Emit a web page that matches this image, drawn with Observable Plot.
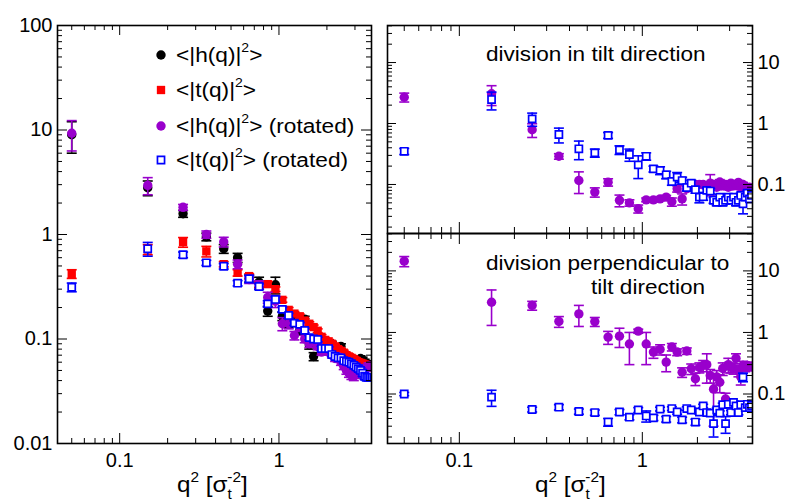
<!DOCTYPE html>
<html>
<head>
<meta charset="utf-8">
<script src="https://cdn.jsdelivr.net/npm/d3@7"></script>
<script src="https://cdn.jsdelivr.net/npm/@observablehq/plot@0.6"></script>
<style>
  html, body { margin: 0; padding: 0; background: #fff; }
  #chart { position: relative; width: 789px; height: 502px; overflow: hidden; }
  #chart svg { position: absolute; top: 0; }
</style>
</head>
<body>
<div id="chart"></div>
<script>
// q^2 bin centres, in units of sigma_t^-2
const q2 = [0.05, 0.15, 0.25, 0.35, 0.45, 0.55, 0.65, 0.75, 0.85, 0.95,
            1.05, 1.15, 1.25, 1.35, 1.45, 1.55, 1.65, 1.75, 1.85, 1.95,
            2.05, 2.15, 2.25, 2.35, 2.45, 2.55, 2.65, 2.75, 2.85, 2.95,
            3.05, 3.15, 3.25, 3.35, 3.45, 3.55, 3.65, 3.75, 3.85, 3.95];

// Left panel: full spectra
const hAll = [9.0, 2.8, 1.58, 0.95, 0.73, 0.6, 0.38, 0.35, 0.185, 0.33,
              0.165, 0.14, 0.165, 0.12, 0.155, 0.088, 0.068, 0.1, 0.085, 0.09,
              0.092, 0.09, 0.08, 0.078, 0.085, 0.07, 0.068, 0.066, 0.064, 0.062,
              0.06, 0.062, 0.065, 0.063, 0.06, 0.058, 0.057, 0.055, 0.055, 0.054];
const hAllErr = [3.0, 0.45, 0.12, 0.08, 0.07, 0.06, 0.03, 0.04, 0.02, 0.06,
                 0.015, 0.012, 0.012, 0.01, 0.01, 0.008, 0.006, 0.008, 0.006, 0.006,
                 0.006, 0.005, 0.005, 0.005, 0.005, 0.004, 0.004, 0.004, 0.004, 0.004,
                 0.004, 0.004, 0.004, 0.004, 0.004, 0.004, 0.004, 0.004, 0.004, 0.004];
const tAll = [0.42, 0.72, 0.845, 0.69, 0.52, 0.43, 0.40, 0.33, 0.335, 0.30,
              0.237, 0.19, 0.175, 0.165, 0.15, 0.14, 0.13, 0.12, 0.105, 0.098,
              0.095, 0.09, 0.085, 0.08, 0.077, 0.074, 0.07, 0.068, 0.066, 0.064,
              0.062, 0.06, 0.059, 0.058, 0.057, 0.056, 0.055, 0.055, 0.054, 0.054];
const tAllErr = [0.04, 0.08, 0.09, 0.08, 0.03, 0.03, 0.02, 0.02, 0.02, 0.015,
                 0.012, 0.01, 0.008, 0.008, 0.007, 0.006, 0.006, 0.005, 0.005, 0.005,
                 0.004, 0.004, 0.004, 0.004, 0.004, 0.004, 0.004, 0.004, 0.004, 0.004,
                 0.004, 0.004, 0.004, 0.004, 0.004, 0.004, 0.004, 0.004, 0.004, 0.004];
const hRot = [9.3, 2.95, 1.82, 1.0, 0.85, 0.52, 0.37, 0.33, 0.25, 0.23,
              0.14, 0.14, 0.108, 0.13, 0.1, 0.09, 0.095, 0.085, 0.075, 0.08,
              0.075, 0.07, 0.065, 0.068, 0.06, 0.055, 0.05, 0.047, 0.045, 0.044,
              0.046, 0.048, 0.05, 0.052, 0.05, 0.053, 0.055, 0.055, 0.056, 0.056];
const hRotErr = [3.0, 0.55, 0.12, 0.08, 0.09, 0.05, 0.03, 0.03, 0.03, 0.03,
                 0.02, 0.015, 0.01, 0.01, 0.008, 0.007, 0.006, 0.006, 0.005, 0.005,
                 0.004, 0.004, 0.004, 0.004, 0.004, 0.004, 0.004, 0.004, 0.004, 0.004,
                 0.004, 0.004, 0.004, 0.004, 0.004, 0.004, 0.004, 0.004, 0.004, 0.004];
const tRot = [0.313, 0.73, 0.64, 0.536, 0.497, 0.342, 0.377, 0.318, 0.217, 0.239,
              0.192, 0.168, 0.142, 0.138, 0.121, 0.103, 0.1, 0.099, 0.081, 0.081,
              0.081, 0.071, 0.068, 0.066, 0.066, 0.062, 0.061, 0.06, 0.058, 0.056,
              0.054, 0.052, 0.05, 0.047, 0.044, 0.043, 0.043, 0.043, 0.043, 0.043];
const tRotErr = [0.03, 0.11, 0.04, 0.03, 0.03, 0.02, 0.03, 0.02, 0.015, 0.015,
                 0.01, 0.008, 0.007, 0.006, 0.006, 0.005, 0.005, 0.005, 0.004, 0.004,
                 0.003, 0.003, 0.003, 0.003, 0.003, 0.003, 0.003, 0.003, 0.003, 0.003,
                 0.003, 0.003, 0.003, 0.003, 0.003, 0.003, 0.003, 0.003, 0.003, 0.003];

// Upper right: division in tilt direction
const tiltH = [2.7, 3.07, 0.79, 0.29, 0.116, 0.075, 0.109, 0.055, 0.05, 0.04,
               0.056, 0.056, 0.058, 0.062, 0.052, 0.085, 0.058, 0.085, 0.09, 0.1,
               0.1, 0.1, 0.095, 0.105, 0.1, 0.09, 0.11, 0.095, 0.1, 0.09,
               0.105, 0.095, 0.1, 0.108, 0.09, 0.1, 0.092, 0.085, 0.09, 0.08];
const tiltHErr = [0.45, 1.1, 0.2, 0.03, 0.045, 0.013, 0.015, 0.012, 0.006, 0.006,
                  0.004, 0.004, 0.004, 0.004, 0.008, 0.01, 0.012, 0.008, 0.008, 0.008,
                  0.01, 0.01, 0.01, 0.04, 0.01, 0.008, 0.01, 0.008, 0.008, 0.008,
                  0.008, 0.008, 0.008, 0.008, 0.008, 0.008, 0.008, 0.008, 0.008, 0.008];
const tiltT = [0.35, 2.47, 1.19, 0.66, 0.385, 0.33, 0.64, 0.37, 0.31, 0.21,
               0.29, 0.18, 0.17, 0.144, 0.112, 0.132, 0.116, 0.089, 0.105, 0.082,
               0.062, 0.063, 0.08, 0.078, 0.055, 0.051, 0.062, 0.051, 0.055, 0.062,
               0.055, 0.062, 0.051, 0.055, 0.066, 0.048, 0.062, 0.072, 0.058, 0.066];
const tiltTErr = [0.04, 0.8, 0.29, 0.18, 0.13, 0.05, 0.07, 0.06, 0.07, 0.085,
                  0.04, 0.02, 0.025, 0.02, 0.015, 0.025, 0.015, 0.01, 0.012, 0.01,
                  0.012, 0.008, 0.008, 0.008, 0.006, 0.006, 0.006, 0.006, 0.006, 0.006,
                  0.006, 0.006, 0.006, 0.006, 0.006, 0.015, 0.006, 0.008, 0.006, 0.006];

// Lower right: division perpendicular to tilt direction
const perpH = [14.4, 3.1, 2.75, 1.51, 2.0, 1.5, 0.84, 0.87, 0.65, 1.05,
               0.65, 0.48, 0.53, 0.33, 0.58, 0.48, 0.226, 0.5, 0.257, 0.177,
               0.27, 0.29, 0.3, 0.2, 0.12, 0.19, 0.155, 0.26, 0.083, 0.3,
               0.27, 0.26, 0.38, 0.24, 0.19, 0.29, 0.27, 0.29, 0.28, 0.28];
const perpHErr = [2.7, 1.8, 0.45, 0.3, 0.75, 0.25, 0.2, 0.3, 0.35, 0.08,
                  0.35, 0.1, 0.1, 0.1, 0.08, 0.06, 0.04, 0.06, 0.05, 0.04,
                  0.05, 0.06, 0.15, 0.05, 0.09, 0.05, 0.05, 0.06, 0.02, 0.08,
                  0.05, 0.05, 0.07, 0.05, 0.05, 0.05, 0.04, 0.04, 0.04, 0.04];
const perpT = [0.1, 0.089, 0.056, 0.061, 0.052, 0.05, 0.035, 0.051, 0.042, 0.055,
               0.044, 0.041, 0.057, 0.039, 0.058, 0.051, 0.038, 0.058, 0.055, 0.035,
               0.051, 0.064, 0.05, 0.049, 0.033, 0.055, 0.049, 0.067, 0.033, 0.068,
               0.05, 0.073, 0.064, 0.05, 0.067, 0.188, 0.06, 0.068, 0.06, 0.065];
const perpTErr = [0.006, 0.026, 0.005, 0.006, 0.005, 0.005, 0.005, 0.005, 0.004, 0.005,
                  0.009, 0.004, 0.004, 0.004, 0.004, 0.004, 0.004, 0.004, 0.004, 0.004,
                  0.004, 0.004, 0.004, 0.004, 0.013, 0.004, 0.004, 0.004, 0.01, 0.004,
                  0.004, 0.004, 0.004, 0.004, 0.004, 0.03, 0.004, 0.004, 0.004, 0.004];

// Axis tick labels
const leftYTicks = [0.01, 0.1, 1, 10, 100];
const rightYTicks = [0.1, 1, 10];
const xTicks = [0.1, 1];

const FONT = "'Liberation Sans', Arial, Helvetica, sans-serif";
const BLACK = "#000000", RED = "#ff0000", VIOLET = "#9900cc", BLUE = "#0000ff";

// horizontal bar used as the error-bar end cap
const capSymbol = {
  draw(ctx, size) {
    const w = Math.sqrt(size / Math.PI);
    ctx.moveTo(-w, 0);
    ctx.lineTo(w, 0);
  }
};

const styles = {
  full:   {symbol: "circle", r: 4.7, fill: BLACK, stroke: "none"},
  square: {symbol: "square", r: 4.7, fill: RED, stroke: "none"},
  violet: {symbol: "circle", r: 4.7, fill: VIOLET, stroke: "none"},
  open:   {symbol: "square", r: 4.0, fill: "white", stroke: BLUE, strokeWidth: 1.7}
};

function series(values, errors, color, style) {
  const rows = q2.map((q, i) => ({q, v: values[i], lo: values[i] - errors[i], hi: values[i] + errors[i]}));
  return [
    Plot.ruleX(rows, {x: "q", y1: "lo", y2: "hi", stroke: color, strokeWidth: 1.6, clip: true}),
    Plot.dot(rows, {x: "q", y: "lo", symbol: capSymbol, r: 5, stroke: color, strokeWidth: 1.6, clip: true}),
    Plot.dot(rows, {x: "q", y: "hi", symbol: capSymbol, r: 5, stroke: color, strokeWidth: 1.6, clip: true}),
    Plot.dot(rows, {x: "q", y: "v", ...style, clip: true})
  ];
}

// minor log ticks (2..9 per decade) inside a domain
function minorTicks([lo, hi]) {
  const out = [];
  for (let e = Math.floor(Math.log10(lo)); e <= Math.ceil(Math.log10(hi)); e++) {
    for (let k = 2; k <= 9; k++) {
      const v = k * Math.pow(10, e);
      if (v > lo && v < hi) out.push(v);
    }
  }
  return out;
}
function majorTicks([lo, hi]) {
  const out = [];
  for (let e = Math.floor(Math.log10(lo)); e <= Math.ceil(Math.log10(hi)); e++) {
    const v = Math.pow(10, e);
    if (v >= lo && v <= hi) out.push(v);
  }
  return out;
}

// inward-pointing ticks on all four sides of the frame
function frameTicks(xDom, yDom, w, h, xLen, yLen) {
  const tick = {stroke: BLACK, strokeWidth: 1};
  const ySide = (vals, len) => [
    Plot.tickY(vals, {y: d => d, insetRight: w - len, ...tick}),
    Plot.tickY(vals, {y: d => d, insetLeft: w - len, ...tick})
  ];
  const xSide = (vals, len) => [
    Plot.tickX(vals, {x: d => d, insetTop: h - len, ...tick}),
    Plot.tickX(vals, {x: d => d, insetBottom: h - len, ...tick})
  ];
  return [
    ...ySide(majorTicks(yDom), yLen[0]), ...ySide(minorTicks(yDom), yLen[1]),
    ...xSide(majorTicks(xDom), xLen[0]), ...xSide(minorTicks(xDom), xLen[1])
  ];
}

const fmt = d => String(d);
const chart = document.getElementById("chart");

function place(svg, left) {
  svg.style.left = left + "px";
  svg.style.background = "transparent";
  svg.style.overflow = "visible";
  svg.style.maxWidth = "none";
  chart.appendChild(svg);
}

// ---- left panel ----
{
  const W = 390, H = 502, m = {top: 25, right: 19, bottom: 59, left: 57};
  const xDom = [0.0407, 3.81], yDom = [0.01, 100];
  const svg = Plot.plot({
    width: W, height: H,
    marginTop: m.top, marginRight: m.right, marginBottom: m.bottom, marginLeft: m.left,
    style: {fontFamily: FONT, fontSize: "20px", color: BLACK, background: "transparent"},
    x: {type: "log", domain: xDom},
    y: {type: "log", domain: yDom},
    marks: [
      ...series(hAll, hAllErr, BLACK, styles.full),
      ...series(tAll, tAllErr, RED, styles.square),
      ...series(hRot, hRotErr, VIOLET, styles.violet),
      ...series(tRot, tRotErr, BLUE, styles.open),
      ...frameTicks(xDom, yDom, W - m.left - m.right, H - m.top - m.bottom, [10, 5], [10, 5]),
      Plot.frame({stroke: BLACK, strokeWidth: 1.6}),
      Plot.axisY({anchor: "left", ticks: leftYTicks, tickFormat: fmt, tickSize: 0, tickPadding: 5, label: null, fontSize: 20}),
      Plot.axisX({anchor: "bottom", ticks: xTicks, tickFormat: fmt, tickSize: 0, tickPadding: 9, label: null, fontSize: 20})
    ]
  });
  place(svg, 0);
}

// ---- upper right panel ----
{
  const W = 409, H = 240, m = {top: 25, right: 37, bottom: 7, left: 7};
  const xDom = [0.0405, 4.0], yDom = [0.0157, 40.5];
  const svg = Plot.plot({
    width: W, height: H,
    marginTop: m.top, marginRight: m.right, marginBottom: m.bottom, marginLeft: m.left,
    style: {fontFamily: FONT, fontSize: "20px", color: BLACK, background: "transparent"},
    x: {type: "log", domain: xDom, axis: null},
    y: {type: "log", domain: yDom},
    marks: [
      ...series(tiltH, tiltHErr, VIOLET, styles.violet),
      ...series(tiltT, tiltTErr, BLUE, styles.open),
      ...frameTicks(xDom, yDom, W - m.left - m.right, H - m.top - m.bottom, [11, 6], [9, 5]),
      Plot.frame({stroke: BLACK, strokeWidth: 1.6}),
      Plot.axisY({anchor: "right", ticks: rightYTicks, tickFormat: fmt, tickSize: 0, tickPadding: 5, label: null, fontSize: 20})
    ]
  });
  place(svg, 380);
}

// ---- lower right panel ----
{
  const W = 409, H = 502, m = {top: 233, right: 37, bottom: 59, left: 7};
  const xDom = [0.0405, 4.0], yDom = [0.0157, 40.5];
  const svg = Plot.plot({
    width: W, height: H,
    marginTop: m.top, marginRight: m.right, marginBottom: m.bottom, marginLeft: m.left,
    style: {fontFamily: FONT, fontSize: "20px", color: BLACK, background: "transparent"},
    x: {type: "log", domain: xDom},
    y: {type: "log", domain: yDom},
    marks: [
      ...series(perpH, perpHErr, VIOLET, styles.violet),
      ...series(perpT, perpTErr, BLUE, styles.open),
      ...frameTicks(xDom, yDom, W - m.left - m.right, H - m.top - m.bottom, [11, 6], [9, 5]),
      Plot.frame({stroke: BLACK, strokeWidth: 1.6}),
      Plot.axisY({anchor: "right", ticks: rightYTicks, tickFormat: fmt, tickSize: 0, tickPadding: 5, label: null, fontSize: 20}),
      Plot.axisX({anchor: "bottom", ticks: xTicks, tickFormat: fmt, tickSize: 0, tickPadding: 9, label: null, fontSize: 20})
    ]
  });
  place(svg, 380);
}

// ---- text layer: legend, panel notes, axis titles ----
const layer = d3.select(chart).append("svg")
  .attr("width", 789).attr("height", 502)
  .style("left", "0px")
  .attr("font-family", FONT)
  .attr("fill", BLACK);

// parts: [text, kind, dx] where kind is "" (normal), "sup" or "sub"
function rich(x, y, size, sx, parts) {
  const g = layer.append("g").attr("transform", `translate(${x},${y}) scale(${sx},1)`);
  const t = g.append("text").attr("x", 0).attr("y", 0).attr("font-size", size);
  let shift = 0;
  for (const [s, kind, dx] of parts) {
    const target = kind === "sup" ? -0.47 * size : kind === "sub" ? 0.3 * size : 0;
    const sp = t.append("tspan").text(s).attr("dy", target - shift);
    if (dx) sp.attr("dx", dx);
    if (kind) sp.attr("font-size", Math.round(size * 0.64));
    shift = target;
  }
  return t;
}

const legendRows = [
  {y: 55, style: styles.full, label: [["<|h(q)|"], ["2", "sup"], [">"]]},
  {y: 90, style: styles.square, label: [["<|t(q)|"], ["2", "sup"], [">"]]},
  {y: 126, style: styles.violet, label: [["<|h(q)|"], ["2", "sup"], ["> (rotated)"]]},
  {y: 160, style: styles.open, label: [["<|t(q)|"], ["2", "sup"], ["> (rotated)"]]}
];
for (const row of legendRows) {
  const st = row.style;
  const shape = st.symbol === "circle" ? d3.symbolCircle : d3.symbolSquare;
  layer.append("path")
    .attr("d", d3.symbol(shape, st.r * st.r * Math.PI)())
    .attr("transform", `translate(161,${row.y})`)
    .attr("fill", st.fill)
    .attr("stroke", st.stroke === "none" ? null : st.stroke)
    .attr("stroke-width", st.strokeWidth || null);
  rich(176, row.y + 7, 21, 1.08, row.label);
}

rich(486, 61, 21, 1.075, [["division in tilt direction"]]);
rich(486, 270, 21, 1.075, [["division perpendicular to"]]);
rich(591, 294, 21, 1.075, [["tilt direction"]]);

for (const x0 of [177, 535]) {
  rich(x0, 492, 22, 1.1, [["q"], ["2", "sup"], [" [\u03C3"], ["t", "sub"], ["-2", "sup", -4], ["]"]]);
}
</script>
</body>
</html>
